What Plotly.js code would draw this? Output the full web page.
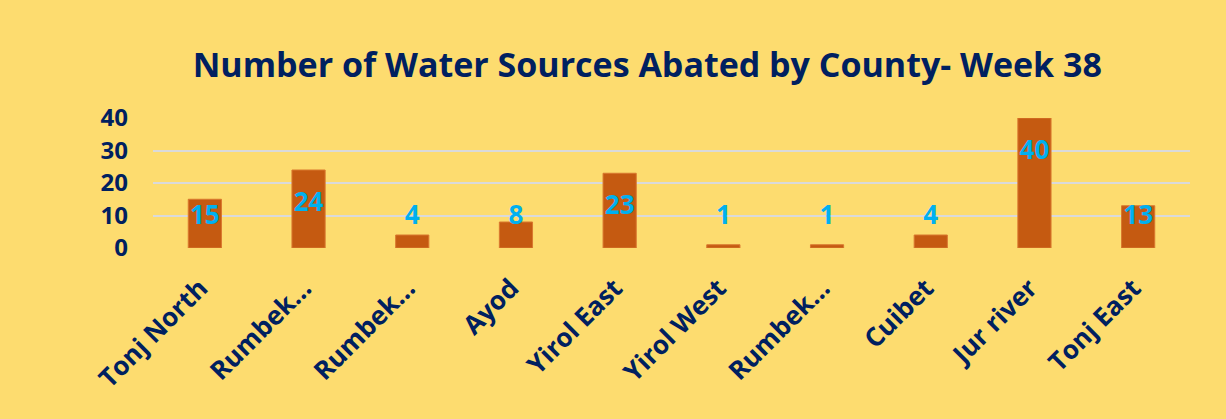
<!DOCTYPE html>
<html><head><meta charset="utf-8">
<script src="https://cdn.plot.ly/plotly-3.0.1.min.js"></script>
<style>html,body{margin:0;padding:0;background:#FDDC6F;}</style>
</head><body>
<div id="chart" style="width:1226px;height:419px;"></div>
<script>
const counties = ["Tonj North", "Rumbek…", "Rumbek…", "Ayod", "Yirol East", "Yirol West", "Rumbek…", "Cuibet", "Jur river", "Tonj East"];
const abated = [15, 24, 4, 8, 23, 1, 1, 4, 40, 13];
const yTicks = [0, 10, 20, 30, 40];

const idx = counties.map((_, i) => i);
const navy = "#002060";
const font = "Open Sans, sans-serif";

const bars = {
  type: "bar", x: idx, y: abated,
  marker: {color: "#C55A11", line: {color: "#D9782F", width: 1}},
  hoverinfo: "skip", width: 0.32
};
const labels = {
  type: "scatter", mode: "text", x: idx,
  y: abated.map(v => Math.max(9.5, v - 10.5)),
  text: abated.map(String),
  textfont: {family: font, size: 26, color: "#00B0F0", weight: "bold"},
  textposition: "middle center", hoverinfo: "skip", cliponaxis: false
};

const layout = {
  width: 1226, height: 419,
  paper_bgcolor: "#FDDC6F", plot_bgcolor: "#FDDC6F",
  margin: {l: 153, r: 36, t: 118, b: 171},
  showlegend: false,
  title: {text: "<b>Number of Water Sources Abated by County- Week 38</b>",
    font: {family: font, size: 34, color: navy}, x: 0.528, xanchor: "center", y: 0.845, yanchor: "middle"},
  xaxis: {range: [-0.5, counties.length - 0.5], tickvals: idx, ticktext: counties.map(s => s + "\u00a0"),
    tickangle: -45, showgrid: false, zeroline: false, showline: false, ticks: "",
    tickfont: {family: font, size: 26, color: navy, weight: "bold"}, ticklabelstandoff: 14},
  yaxis: {range: [0, 40], tickvals: yTicks, showgrid: true, gridcolor: "#DADADA", gridwidth: 2,
    zeroline: false, showline: false, ticks: "",
    tickfont: {family: font, size: 24, color: navy, weight: "bold"}, ticklabelstandoff: 24}
};
Plotly.newPlot("chart", [bars, labels], layout, {staticPlot: true});
</script>
</body></html>
